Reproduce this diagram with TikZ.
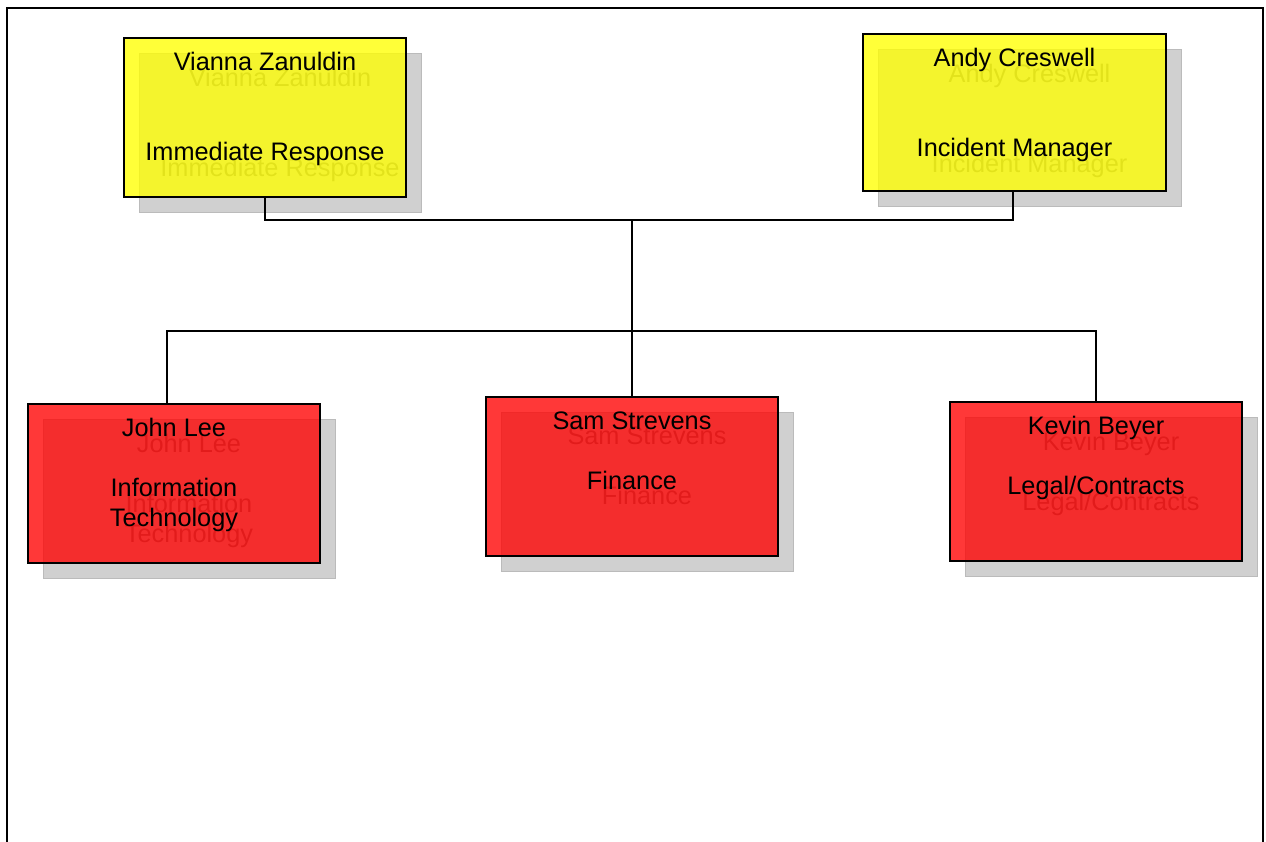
\documentclass[tikz,border=0pt]{standalone}
\usepackage{fontspec}
\setmainfont{Liberation Sans}
\usepackage{tikz}
\usetikzlibrary{positioning, backgrounds}

\definecolor{cardyellow}{RGB}{255,255,0}
\definecolor{cardred}{RGB}{255,0,0}
\definecolor{shadowgray}{RGB}{208,208,208}
\definecolor{ghostgray}{RGB}{125,125,125}

\begin{document}
\begin{tikzpicture}[
    x=0.025cm, y=-0.025cm,
    card/.style={rectangle, draw=black, line width=1pt, fill=#1, fill opacity=0.78, minimum width=7.3cm, minimum height=3.975cm, inner sep=0pt},
    shade/.style={rectangle, fill=shadowgray, draw=shadowgray!90!black, line width=0.4pt, minimum width=7.3cm, minimum height=3.975cm, inner sep=0pt},
    cardtext/.style={anchor=north, yshift=-0.375cm, inner sep=0pt, align=center, fill=none, draw=none, fill opacity=1, text opacity=1, font=\fontsize{18}{21.34}\selectfont},
    ghosttext/.style={cardtext, text=ghostgray},
    wire/.style={draw=black, line width=1pt},
]
\useasboundingbox (0,0) rectangle (1266,841);

% ---- Page frame ----
\draw[line width=1.4pt] (7,850) -- (7,8) -- (1263,8) -- (1263,850);

% ---- Top row ----
\node[card=cardyellow, minimum width=7.05cm, label={[cardtext]north:{Vianna Zanuldin\\[2\baselineskip]Immediate Response}}] (vianna) at (265,117.5) {};
\node[card=cardyellow, minimum width=7.575cm, minimum height=3.925cm, label={[cardtext]north:{Andy Creswell\\[2\baselineskip]Incident Manager}}] (andy) at (1014.5,112.5) {};

% ---- Bottom row ----
\node[card=cardred, label={[cardtext]north:{John Lee\\[\baselineskip]Information\\Technology}}] (john) at (174,483.5) {};
\node[card=cardred, label={[cardtext]north:{Sam Strevens\\[\baselineskip]Finance}}] (sam) at (632,476.5) {};
\node[card=cardred, label={[cardtext]north:{Kevin Beyer\\[\baselineskip]Legal/Contracts}}] (kevin) at (1096,481.5) {};

% ---- Shadows ----
\begin{scope}[on background layer]
  \node[shade, minimum width=7.05cm, label={[ghosttext]north:{Vianna Zanuldin\\[2\baselineskip]Immediate Response}}] (viannashade) at ([shift={(15,15)}]vianna.center) {};
  \node[shade, minimum width=7.575cm, minimum height=3.925cm, label={[ghosttext]north:{Andy Creswell\\[2\baselineskip]Incident Manager}}] (andyshade) at ([shift={(15,15)}]andy.center) {};
  \node[shade, label={[ghosttext]north:{John Lee\\[\baselineskip]Information\\Technology}}] (johnshade) at ([shift={(15,15)}]john.center) {};
  \node[shade, label={[ghosttext]north:{Sam Strevens\\[\baselineskip]Finance}}] (samshade) at ([shift={(15,15)}]sam.center) {};
  \node[shade, label={[ghosttext]north:{Kevin Beyer\\[\baselineskip]Legal/Contracts}}] (kevinshade) at ([shift={(15,15)}]kevin.center) {};
\end{scope}

% ---- Connectors ----
\coordinate (topbar) at (632,220);
\coordinate (lowbar) at (632,331);
\draw[wire] (vianna.south) |- (topbar) -| ([xshift=-0.04cm]andy.south);
\draw[wire] (topbar) -- (sam.north);
\draw[wire] ([xshift=-0.175cm]john.north) |- (lowbar) -| (kevin.north);

\end{tikzpicture}
\end{document}
